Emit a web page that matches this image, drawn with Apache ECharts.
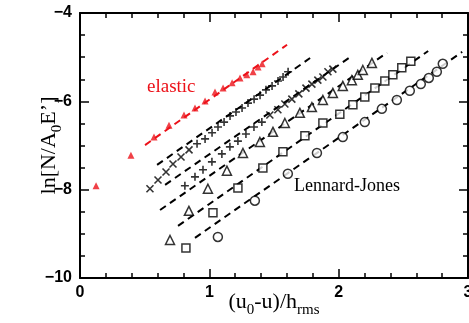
<!DOCTYPE html>
<html>
<head>
<meta charset="utf-8">
<script src="https://cdn.jsdelivr.net/npm/echarts@6/dist/echarts.min.js"></script>
<style>
  html, body { margin: 0; padding: 0; background: #fff; }
  #chart { width: 469px; height: 323px; }
</style>
</head>
<body>
<div id="chart"></div>
<script>
// Axis ranges and tick values
const xTicks = [0, 1, 2, 3];
const yTicks = [-10, -8, -6, -4];

// Elastic interface: measured points (u0-u)/h_rms vs ln[N/A0E']
const elasticPts = [
  [0.124, -7.91], [0.394, -7.22], [0.572, -6.81], [0.688, -6.54], [0.804, -6.31],
  [0.889, -6.15], [0.967, -5.99], [1.044, -5.79], [1.106, -5.70], [1.176, -5.58],
  [1.237, -5.47], [1.290, -5.40], [1.338, -5.33], [1.377, -5.22], [1.408, -5.15]
];
const elasticFit = [[0.503, -6.99], [1.601, -4.72]];

// Lennard-Jones runs (five load levels)
const ljCrossA = [
  [0.541, -7.98], [0.603, -7.78], [0.665, -7.60], [0.719, -7.42], [0.781, -7.26], [0.843, -7.10]
];
const ljPlusA = [
  [0.905, -6.96], [0.967, -6.85], [1.021, -6.71], [1.067, -6.58], [1.114, -6.47],
  [1.160, -6.33], [1.206, -6.24], [1.253, -6.15], [1.299, -6.04], [1.346, -5.95],
  [1.392, -5.86], [1.438, -5.74], [1.485, -5.65], [1.531, -5.54], [1.570, -5.45], [1.609, -5.33]
];
const fitA = [[0.596, -7.44], [1.779, -5.02]];

const ljPlusB = [
  [0.811, -7.91], [0.889, -7.71], [0.951, -7.55], [1.020, -7.37], [1.097, -7.19],
  [1.159, -7.03], [1.221, -6.90], [1.283, -6.74], [1.345, -6.58], [1.406, -6.47]
];
const ljCrossB = [
  [1.468, -6.31], [1.530, -6.19], [1.584, -6.06], [1.638, -5.95], [1.692, -5.83],
  [1.747, -5.70], [1.793, -5.61], [1.839, -5.52], [1.878, -5.45], [1.917, -5.33], [1.955, -5.27]
];
const fitB = [[0.658, -7.89], [2.088, -5.00]];

const ljTriangles = [
  [0.696, -9.14], [0.842, -8.48], [0.989, -7.98], [1.136, -7.57], [1.260, -7.17],
  [1.391, -6.92], [1.492, -6.69], [1.584, -6.49], [1.700, -6.26], [1.793, -6.13],
  [1.878, -5.97], [1.955, -5.81], [2.032, -5.65], [2.102, -5.52], [2.148, -5.40],
  [2.187, -5.29], [2.257, -5.13]
];
const fitC = [[0.619, -8.46], [2.374, -4.90]];

const ljSquares = [
  [0.819, -9.32], [1.028, -8.52], [1.221, -7.96], [1.414, -7.51], [1.569, -7.14],
  [1.739, -6.78], [1.878, -6.49], [2.009, -6.29], [2.110, -6.08], [2.202, -5.90],
  [2.280, -5.70], [2.357, -5.54], [2.419, -5.40], [2.488, -5.24], [2.558, -5.09]
];
const fitD = [[0.758, -8.82], [2.692, -4.86]];

const ljCircles = [
  [1.066, -9.07], [1.352, -8.25], [1.607, -7.64], [1.832, -7.17], [2.032, -6.81],
  [2.202, -6.47], [2.334, -6.17], [2.450, -5.97], [2.550, -5.76], [2.635, -5.61],
  [2.697, -5.47], [2.759, -5.33], [2.805, -5.15]
];
const fitE = [[0.889, -9.09], [2.955, -4.88]];

const RED = '#ec1119';
const BLACK = '#000';
const SERIF = '"Liberation Serif", "Times New Roman", serif';
const SANS = '"Liberation Sans", Arial, sans-serif';

const crossPath = 'path://M0,0L10,10M10,0L0,10';
const plusPath = 'path://M5,0L5,10M0,5L10,5';

function fmt(v) {
  return v < 0 ? '\u2212' + Math.abs(v) : String(v);
}

function fitLine(data, color) {
  return {
    type: 'line', data: data, symbol: 'none', silent: true, z: 2,
    lineStyle: { color: color, width: 2, type: [7, 5] }
  };
}

function openMarks(data, symbol, size) {
  return {
    type: 'scatter', data: data, symbol: symbol, symbolSize: size, z: 3,
    itemStyle: { color: '#fff', borderColor: BLACK, borderWidth: 1.5 }
  };
}

function strokeMarks(data, symbol, size) {
  return {
    type: 'scatter', data: data, symbol: symbol, symbolSize: size, z: 3,
    itemStyle: { color: 'transparent', borderColor: BLACK, borderWidth: 1.6 }
  };
}

const axisLine = { show: true, onZero: false, lineStyle: { color: BLACK, width: 2 } };
const subStyle = { fontFamily: SERIF, fontSize: 15, lineHeight: 15, color: BLACK, verticalAlign: 'top', padding: [12, 0, 0, 0] };

const chart = echarts.init(document.getElementById('chart'), null, { renderer: 'canvas' });
chart.setOption({
  animation: false,
  backgroundColor: '#fff',
  grid: { left: 80, top: 13, right: 1, bottom: 45, containLabel: false, outerBoundsMode: 'none' },
  xAxis: [
    {
      type: 'value', min: xTicks[0], max: xTicks[xTicks.length - 1], interval: 1,
      position: 'bottom',
      axisLine: axisLine,
      axisTick: { show: true, inside: true, length: 9, lineStyle: { color: BLACK, width: 1.5 } },
      minorTick: { show: true, splitNumber: 5, length: 5, lineStyle: { color: BLACK, width: 1.5 } },
      splitLine: { show: false },
      axisLabel: {
        margin: 7, formatter: fmt, color: BLACK,
        fontFamily: SANS, fontWeight: 'bold', fontSize: 16
      },
      name: '(u{s|0}-u)/h{s|rms}',
      nameLocation: 'middle',
      nameGap: 13,
      nameMoveOverlap: false,
      nameTextStyle: {
        color: BLACK, fontFamily: SERIF, fontSize: 22, lineHeight: 22, verticalAlign: 'top',
        rich: { s: subStyle }
      }
    },
    {
      type: 'value', min: xTicks[0], max: xTicks[xTicks.length - 1], interval: 1,
      position: 'top',
      axisLine: axisLine,
      axisTick: { show: true, inside: true, length: 9, lineStyle: { color: BLACK, width: 1.5 } },
      minorTick: { show: true, splitNumber: 5, length: 5, lineStyle: { color: BLACK, width: 1.5 } },
      splitLine: { show: false },
      axisLabel: { show: false }
    }
  ],
  yAxis: [
    {
      type: 'value', min: yTicks[0], max: yTicks[yTicks.length - 1], interval: 2,
      position: 'left',
      axisLine: axisLine,
      axisTick: { show: true, inside: true, length: 9, lineStyle: { color: BLACK, width: 1.5 } },
      minorTick: { show: true, splitNumber: 4, length: 5, lineStyle: { color: BLACK, width: 1.5 } },
      splitLine: { show: false },
      axisLabel: {
        margin: 8, formatter: fmt, color: BLACK,
        fontFamily: SANS, fontWeight: 'bold', fontSize: 16
      },
      name: 'ln[N/A{s|0}E\u2019]',
      nameLocation: 'middle',
      nameGap: 42,
      nameRotate: 90,
      nameMoveOverlap: false,
      nameTextStyle: {
        color: BLACK, fontFamily: SERIF, fontSize: 22, lineHeight: 22, verticalAlign: 'top',
        rich: { s: subStyle }
      }
    },
    {
      type: 'value', min: yTicks[0], max: yTicks[yTicks.length - 1], interval: 2,
      position: 'right',
      axisLine: axisLine,
      axisTick: { show: true, inside: true, length: 9, lineStyle: { color: BLACK, width: 1.5 } },
      minorTick: { show: true, splitNumber: 4, length: 5, lineStyle: { color: BLACK, width: 1.5 } },
      splitLine: { show: false },
      axisLabel: { show: false }
    }
  ],
  graphic: [
    {
      type: 'text', x: 147, y: 87, z: 10,
      style: { text: 'elastic', fill: RED, font: '19px ' + SERIF, verticalAlign: 'middle', align: 'left' }
    },
    {
      type: 'text', x: 294, y: 186, z: 10,
      style: { text: 'Lennard-Jones', fill: BLACK, font: '18px ' + SERIF, verticalAlign: 'middle', align: 'left' }
    }
  ],
  series: [
    fitLine(elasticFit, RED),
    fitLine(fitA, BLACK),
    fitLine(fitB, BLACK),
    fitLine(fitC, BLACK),
    fitLine(fitD, BLACK),
    fitLine(fitE, BLACK),
    {
      type: 'scatter', data: elasticPts, symbol: 'triangle', symbolSize: 7, z: 3,
      itemStyle: { color: RED }
    },
    strokeMarks(ljCrossA, crossPath, 7),
    strokeMarks(ljPlusA, plusPath, 8),
    strokeMarks(ljPlusB, plusPath, 8),
    strokeMarks(ljCrossB, crossPath, 7),
    openMarks(ljTriangles, 'triangle', 9),
    openMarks(ljSquares, 'rect', 8),
    openMarks(ljCircles, 'circle', 9)
  ]
});
</script>
</body>
</html>
